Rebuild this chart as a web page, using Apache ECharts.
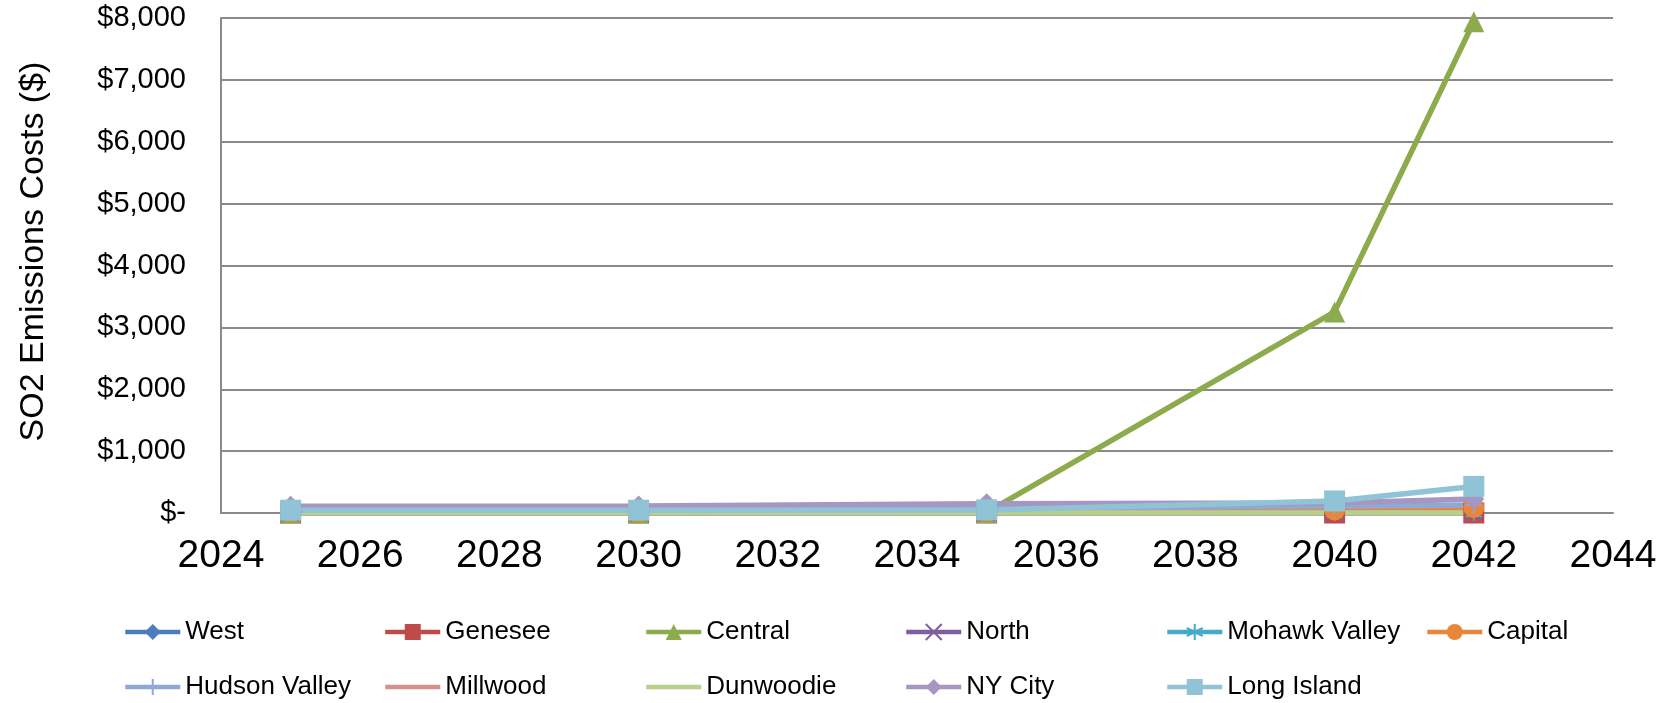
<!DOCTYPE html>
<html>
<head>
<meta charset="utf-8">
<script src="https://cdn.jsdelivr.net/npm/echarts@6/dist/echarts.min.js"></script>
<style>
  html, body { margin: 0; padding: 0; background: #ffffff; }
  #chart { width: 1677px; height: 703px; }
</style>
</head>
<body>
<div id="chart"></div>
<script>
// SO2 emissions costs by zone, by study year
const years = [2025, 2030, 2035, 2040, 2042];
const west         = [0, 0, 0, 0, 0];
const genesee      = [0, 0, 0, 0, 0];
const central      = [0, 0, 10, 3250, 7940];
const north        = [0, 0, 0, 0, 0];
const mohawkValley = [0, 0, 0, 0, 0];
const capital      = [20, 20, 30, 50, 90];
const hudsonValley = [60, 65, 80, 110, 130];
const millwood     = [0, 0, 0, 0, 0];
const dunwoodie    = [0, 0, 0, 0, 0];
const nyCity       = [110, 115, 150, 160, 225];
const longIsland   = [45, 45, 50, 195, 430];

const zoneNames = ['West', 'Genesee', 'Central', 'North', 'Mohawk Valley', 'Capital',
                   'Hudson Valley', 'Millwood', 'Dunwoodie', 'NY City', 'Long Island'];
const zoneValues = [west, genesee, central, north, mohawkValley, capital,
                    hudsonValley, millwood, dunwoodie, nyCity, longIsland];

const xAxisMin = 2024, xAxisMax = 2044, xAxisStep = 2;
const yAxisMin = 0, yAxisMax = 8000, yAxisStep = 1000;

// Marker shapes and colours per zone
const plusPath = 'path://M5 0 L5 10 M0 5 L10 5';
const crossPath = 'path://M0 0 L10 10 M10 0 L0 10';
const starPath = 'path://M5 0 L5 10 M0 2.5 L10 7.5 M0 7.5 L10 2.5';
const zoneStyle = [
  { color: '#4A7EBB', symbol: 'diamond' },
  { color: '#BE4B48', symbol: 'rect' },
  { color: '#8DAB4C', symbol: 'triangle' },
  { color: '#7D60A0', symbol: crossPath, stroke: true },
  { color: '#46AAC5', symbol: starPath, stroke: true },
  { color: '#E8873C', symbol: 'circle' },
  { color: '#8FA9D4', symbol: plusPath, stroke: true },
  { color: '#D6918F', symbol: 'none' },
  { color: '#B9CF8E', symbol: 'none' },
  { color: '#A696C2', symbol: 'diamond' },
  { color: '#8FC3D5', symbol: 'rect' }
];

const font = '"Liberation Sans", Arial, sans-serif';

const series = zoneNames.map((name, i) => {
  const st = zoneStyle[i];
  return {
    name: name,
    type: 'line',
    data: years.map((y, k) => [y, zoneValues[i][k]]),
    symbol: st.symbol === 'none' ? 'rect' : st.symbol,
    symbolSize: st.stroke ? 16 : 21,
    showSymbol: st.symbol !== 'none',
    lineStyle: { color: st.color, width: 5.5 },
    itemStyle: st.stroke
      ? { color: st.color, borderColor: st.color, borderWidth: 2 }
      : { color: st.color, borderColor: st.color, borderWidth: 0 },
    emphasis: { disabled: true },
    animation: false
  };
});

// Legend: two rows, fixed column pitch; plain-line zones show no marker
const colX = [123, 383, 644, 904, 1165, 1425];
const rowY = [619, 674];
const legends = zoneNames.map((name, i) => {
  const row = i < 6 ? 0 : 1;
  const col = i < 6 ? i : i - 6;
  const noMarker = zoneStyle[i].symbol === 'none';
  return {
    data: [name],
    left: colX[col],
    top: rowY[row],
    padding: 0,
    itemWidth: 55,
    itemHeight: 20,
    itemGap: 0,
    selectedMode: false,
    lineStyle: { width: 4.5 },
    itemStyle: noMarker ? { opacity: 0 } : {},
    textStyle: { fontFamily: font, fontSize: 26, color: '#000', lineHeight: 26 }
  };
});

const chart = echarts.init(document.getElementById('chart'), null, { renderer: 'canvas' });
chart.setOption({
  backgroundColor: '#ffffff',
  animation: false,
  grid: { left: 221, right: 64, top: 18, bottom: 190, containLabel: false, outerBoundsMode: 'none' },
  legend: legends,
  xAxis: {
    type: 'value',
    min: xAxisMin,
    max: xAxisMax,
    interval: xAxisStep,
    axisLine: { show: true, onZero: false, lineStyle: { color: '#8A8A8A', width: 2 } },
    axisTick: { show: false },
    splitLine: { show: false },
    axisLabel: {
      margin: 24,
      fontFamily: font,
      fontSize: 39,
      color: '#000',
      formatter: v => String(v)
    }
  },
  yAxis: {
    type: 'value',
    min: yAxisMin,
    max: yAxisMax,
    interval: yAxisStep,
    name: 'SO2 Emissions Costs ($)',
    nameLocation: 'middle',
    nameGap: 170,
    nameRotate: 90,
    nameTextStyle: { fontFamily: font, fontSize: 34, color: '#000', padding: [0, 0, 0, 28] },
    axisLine: { show: true, lineStyle: { color: '#8A8A8A', width: 2 } },
    axisTick: { show: false },
    splitLine: { show: true, lineStyle: { color: '#8A8A8A', width: 2 } },
    axisLabel: {
      margin: 35,
      fontFamily: font,
      fontSize: 29,
      color: '#000',
      formatter: v => v === 0 ? '$-' : '$' + v.toLocaleString('en-US')
    }
  },
  series: series
});
</script>
</body>
</html>
